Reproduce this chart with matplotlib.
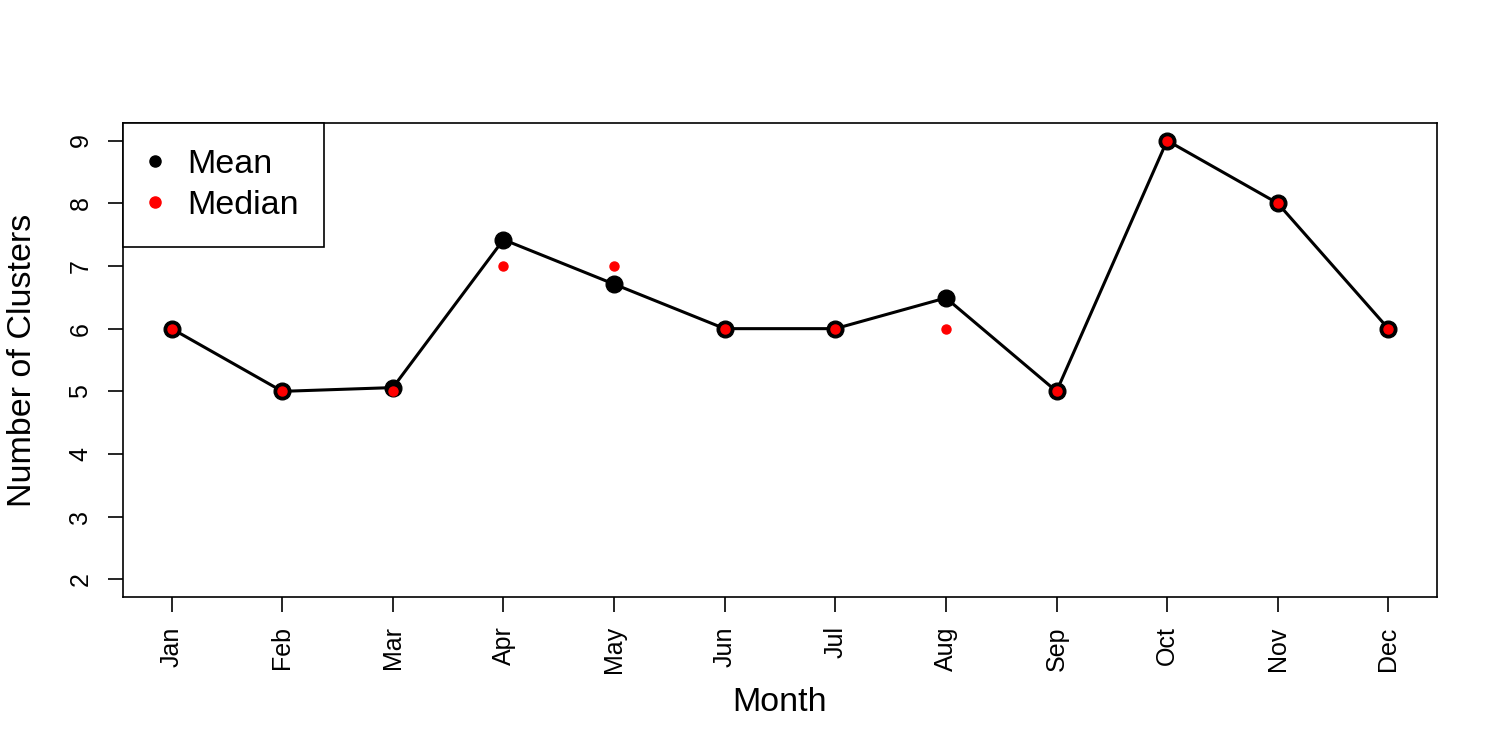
import matplotlib
matplotlib.use("Agg")
import matplotlib.pyplot as plt
from matplotlib.lines import Line2D

plt.rcParams['font.family'] = ['Liberation Sans', 'DejaVu Sans']

months = ["Jan", "Feb", "Mar", "Apr", "May", "Jun", "Jul", "Aug", "Sep", "Oct", "Nov", "Dec"]
mean_clusters = [6.0, 5.0, 5.06, 7.42, 6.71, 6.0, 6.0, 6.49, 5.0, 9.0, 8.0, 6.0]
median_clusters = [6, 5, 5, 7, 7, 6, 6, 6, 5, 9, 8, 6]
y_ticks = [2, 3, 4, 5, 6, 7, 8, 9]

fig = plt.figure(figsize=(15, 7.5), dpi=100)
ax = fig.add_axes([0.082, 0.204, 0.876, 0.632])

x = list(range(1, len(months) + 1))
ax.plot(x, mean_clusters, color='black', lw=2.2, marker='o', markersize=12, zorder=2)
ax.plot(x, median_clusters, linestyle='none', marker='o', color='red', markersize=6.5, zorder=3)

ax.set_xlim(0.56, 12.44)
ax.set_ylim(1.72, 9.28)
ax.set_xticks(x)
ax.set_xticklabels(months, rotation=90)
ax.set_yticks(y_ticks)
ax.set_yticklabels([str(v) for v in y_ticks], rotation=90, va='center')
ax.tick_params(axis='both', length=11, width=1.2, labelsize=18)
ax.tick_params(axis='x', pad=10)
ax.tick_params(axis='y', pad=11)
for s in ax.spines.values():
    s.set_linewidth(1.2)

ax.set_xlabel("Month", fontsize=24.5, labelpad=10)
ax.set_ylabel("Number of Clusters", fontsize=24.5, labelpad=22)

handles = [Line2D([], [], linestyle='none', marker='o', color='black', markersize=8),
           Line2D([], [], linestyle='none', marker='o', color='red', markersize=8)]
leg = ax.legend(handles, ["Mean", "Median"], loc='upper left', bbox_to_anchor=(0, 1),
                borderaxespad=0, fontsize=24.5, frameon=True, fancybox=False,
                edgecolor='black', handletextpad=0.75, handlelength=0.38,
                borderpad=0.75, labelspacing=0.31, framealpha=1)
leg.get_frame().set_linewidth(1.2)

fig.savefig("out.png", dpi=100)
